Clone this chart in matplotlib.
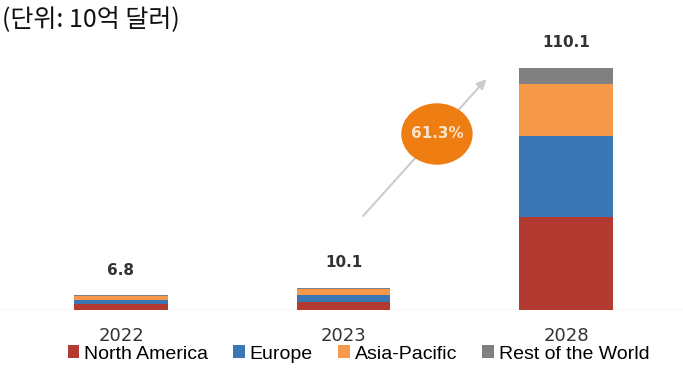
import numpy as np
from matplotlib import pyplot as plt
from matplotlib.patches import Ellipse

years = ['2022', '2023', '2028']
totals = [6.8, 10.1, 110.1]
north_america = [2.6, 3.8, 42.3]
europe = [2.0, 2.9, 36.7]
asia_pacific = [1.8, 2.8, 23.6]
rest_world = [0.4, 0.6, 7.5]

series = [north_america, europe, asia_pacific, rest_world]
names = ['North America', 'Europe', 'Asia-Pacific', 'Rest of the World']
colors = ['#B33A30', '#3B76B5', '#F7994A', '#808080']

plt.rcParams['font.family'] = ['Liberation Sans', 'Noto Sans CJK KR', 'DejaVu Sans']

fig = plt.figure(figsize=(6.83, 3.72), dpi=100)
ax = fig.add_axes([0, 62/372, 1, (310-20)/372])

x = np.arange(len(years))
bottom = np.zeros(len(years))
handles = []
for vals, name, c in zip(series, names, colors):
    b = ax.bar(x, vals, 0.42, bottom=bottom, color=c, label=name, zorder=2)
    handles.append(b)
    bottom += np.array(vals)

for xi, t in zip(x, totals):
    ax.text(xi, t + 25/2.2, f'{t}', ha='center', va='center', fontsize=11,
            fontweight='bold', color='#333333', family='DejaVu Sans')

ax.set_xlim(-121/222.5, (683-121)/222.5)
ax.set_ylim(0, (310-20)/2.2)
ax.axhline(0, color='#d8d8d8', lw=1, zorder=1)
for s in ax.spines.values():
    s.set_visible(False)
ax.set_yticks([])
ax.set_xticks(x)
ax.set_xticklabels(years, fontsize=13, color='#333333', family='DejaVu Sans')
ax.tick_params(axis='x', length=0, pad=12)

# growth arrow and CAGR bubble
ax.annotate('', xy=(1.65, (310-77)/2.2), xytext=(1.08, (310-218)/2.2),
            arrowprops=dict(arrowstyle='-|>', color='#cccccc', lw=1.5,
                            mutation_scale=14), zorder=3)
ax.add_patch(Ellipse((1.42, (310-134)/2.2), 70/222.5, 60/2.2,
                     color='#EE7D12', zorder=4))
ax.text(1.42, (310-134)/2.2, '61.3%', ha='center', va='center', fontsize=11,
        fontweight='bold', color='#FBE3C8', zorder=5, family='DejaVu Sans')

fig.text(0.003, 1-19/372, '(단위: 10억 달러)', fontsize=18, ha='left', va='center',
         family=['Noto Sans CJK KR', 'DejaVu Sans'], fontweight='light', color='#111111')

fig.legend(handles=handles, labels=names, loc='center', bbox_to_anchor=(0.525, 1-354/372),
           ncol=4, frameon=False, fontsize=14, handlelength=0.6, handleheight=0.6,
           handletextpad=0.25, columnspacing=1.3)

fig.savefig('out.png', dpi=100)
